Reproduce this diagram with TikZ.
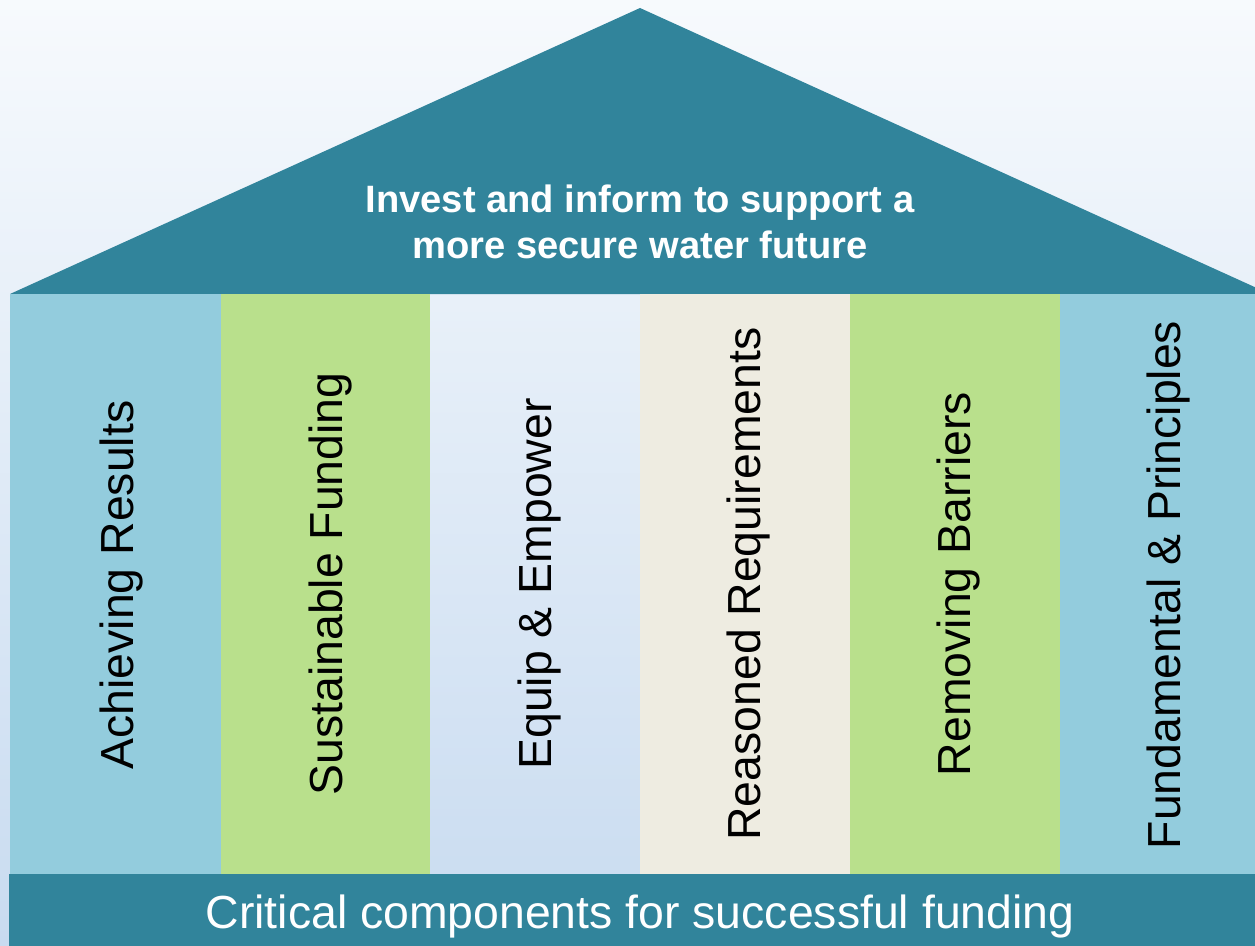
\documentclass[tikz,border=0pt]{standalone}
\usepackage{fontspec}
\setmainfont{Liberation Sans}
\definecolor{roofteal}{RGB}{49,132,155}
\definecolor{pillarblue}{RGB}{147,204,221}
\definecolor{pillargreen}{RGB}{185,224,140}
\definecolor{pillarbeige}{RGB}{238,236,225}
\definecolor{bgtop}{RGB}{247,250,253}
\definecolor{bgbottom}{RGB}{200,219,240}
\tikzset{
    pillartext/.style={rotate=90, text=black, font=\fontsize{26.4}{30}\selectfont},
}
\begin{document}
\begin{tikzpicture}[x=0.02cm, y=-0.02cm]
        \useasboundingbox (0, 0) rectangle (1255, 946);
        \shade[top color=bgtop, bottom color=bgbottom] (0, 0) rectangle (1255, 946);
        % roof
        \clip (0, 0) rectangle (1255, 946);
        \fill[roofteal] (10, 294) -- (640, 8) -- (1270, 294) -- cycle;
        \node[text=white, align=center, font=\fontsize{21.7}{26.6}\selectfont\bfseries] (roof) at (640, 222)
            {Invest and inform to support a\\more secure water future};
        % pillars
        \fill[pillarblue] (10, 294) rectangle (221, 874);
        \fill[pillargreen] (221, 294) rectangle (430, 874);
        \fill[pillarbeige] (640, 294) rectangle (850, 874);
        \fill[pillargreen] (850, 294) rectangle (1060, 874);
        \fill[pillarblue] (1060, 294) rectangle (1255, 874);
        \node[pillartext] (achieving) at (122, 585) {Achieving Results};
        \node[pillartext] (funding) at (331, 584) {Sustainable Funding};
        \node[pillartext] (equip) at (540, 584) {Equip \& Empower};
        \node[pillartext] (reasoned) at (749, 584) {Reasoned Requirements};
        \node[pillartext] (barriers) at (958, 584) {Removing Barriers};
        \node[pillartext] (principles) at (1168, 585) {Fundamental \& Principles};
        % base
        \fill[roofteal] (9, 874) rectangle (1255, 946);
        \node[text=white, font=\fontsize{26.4}{30}\selectfont] (base) at (640, 917)
            {Critical components for successful funding};
    \end{tikzpicture}
\end{document}
